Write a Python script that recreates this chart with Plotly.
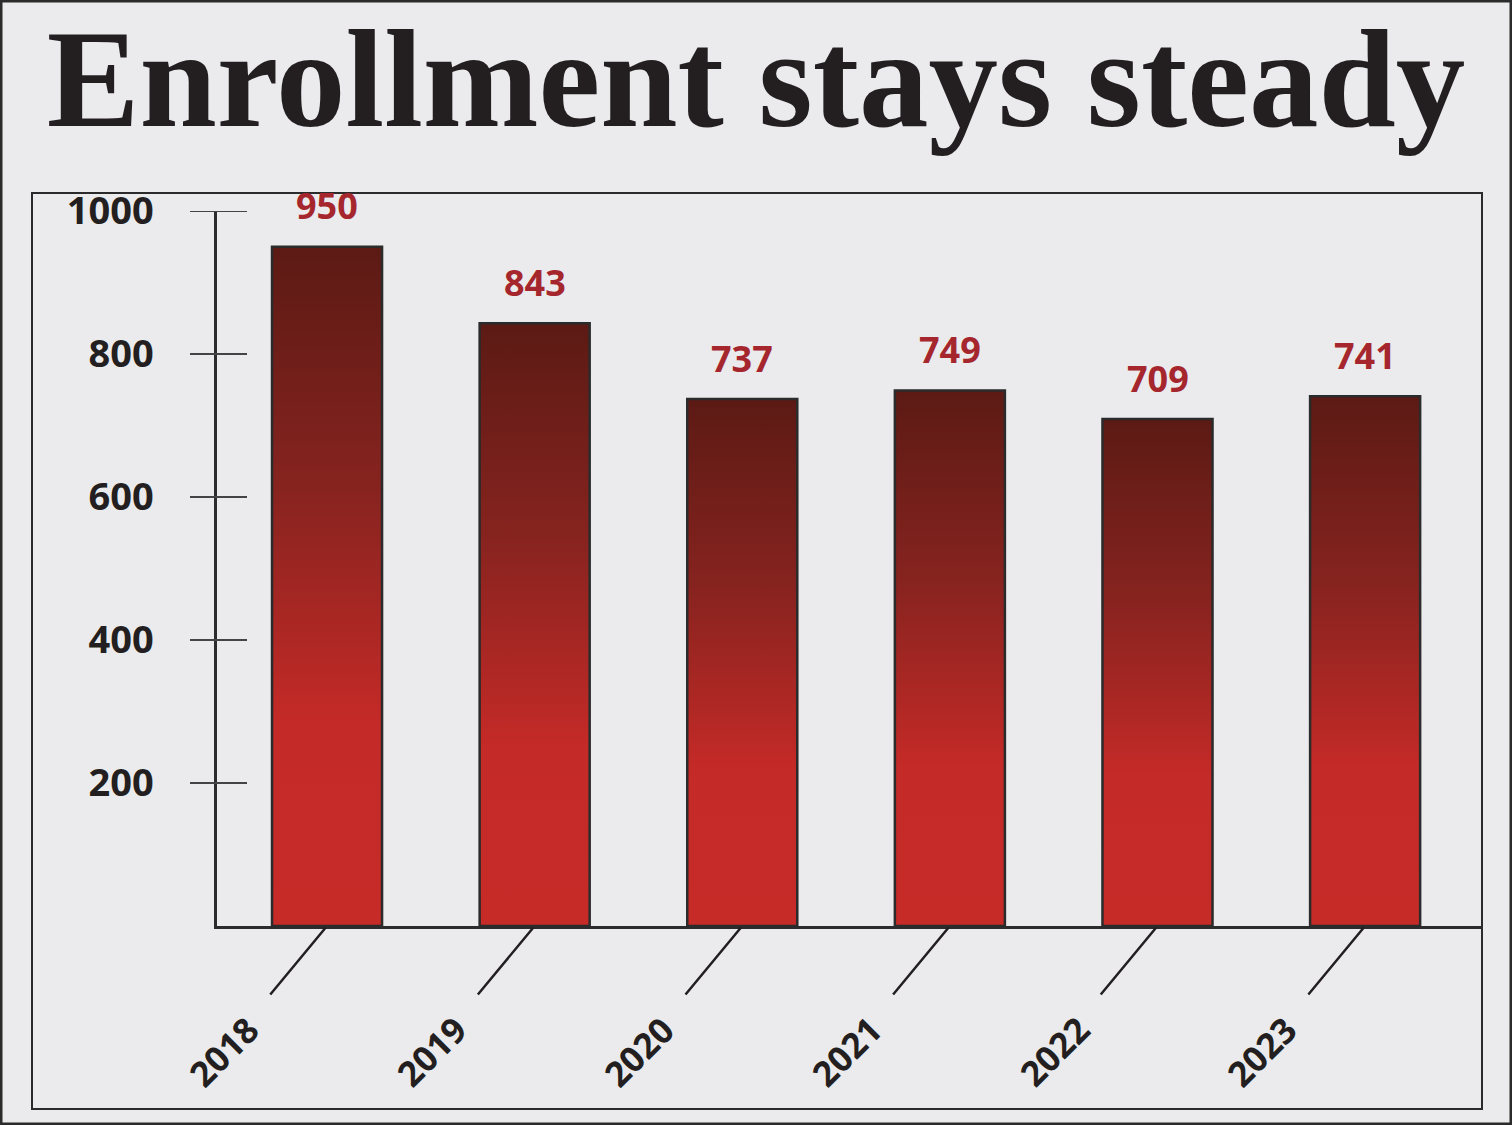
import plotly.graph_objects as go

# data
years = ["2018", "2019", "2020", "2021", "2022", "2023"]
enrollment = [950, 843, 737, 749, 709, 741]
y_ticks = [200, 400, 600, 800, 1000]

W, H = 1512, 1125
ml, mr, mt, mb = 217, 30, 211, 199
pw, ph = W - ml - mr, H - mt - mb


def px_x(p):
    # pixel column -> paper x
    return (p - ml) / pw


def px_y(p):
    # pixel row -> paper y
    return (H - mb - p) / ph


bar_w = 0.53
bg = "#ebebed"
ink = "#231f20"
grad = [[0, "#c62b28"], [0.3, "#c42a27"], [0.65, "#86231f"], [1, "#5c1a14"]]

fig = go.Figure()

for i, v in enumerate(enrollment):
    x0, x1 = i - bar_w / 2, i + bar_w / 2
    fig.add_trace(go.Scatter(
        x=[x0, x0, x1, x1, x0],
        y=[0, v, v, 0, 0],
        mode="lines",
        fill="toself",
        fillgradient=dict(type="vertical", colorscale=grad),
        line=dict(color="#2b2b2b", width=2.5),
        hoverinfo="skip",
        showlegend=False,
    ))
    fig.add_annotation(x=i, y=v, yshift=41, text=str(v), showarrow=False,
                       font=dict(family="Open Sans", size=36, color="#a5272d", weight="bold"))
    fig.add_annotation(x=i, y=0, xshift=-104, yshift=-125, text=years[i], textangle=-45,
                       showarrow=False,
                       font=dict(family="Open Sans", size=35, color=ink, weight="bold"))
    # leader line from the baseline to the year label
    fig.add_annotation(x=i, y=0, text="", showarrow=True, arrowhead=0,
                       ax=-58, ay=70, standoff=2, arrowwidth=2.5, arrowcolor=ink)

# tick marks crossing the y axis
for t in y_ticks:
    fig.add_shape(type="line", xref="paper", yref="y", xsizemode="pixel",
                  xanchor=0, x0=-27, x1=30, y0=t, y1=t,
                  line=dict(color="#444", width=1.8))

# chart box and outer frame
fig.add_shape(type="rect", xref="paper", yref="paper",
              x0=px_x(32), x1=px_x(1482), y0=px_y(1109), y1=px_y(193),
              line=dict(color="#2b2b2b", width=2), layer="below")
fig.add_shape(type="rect", xref="paper", yref="paper",
              x0=px_x(1), x1=px_x(1511), y0=px_y(1124), y1=px_y(1),
              line=dict(color="#2b2b2b", width=3), layer="below")

fig.update_layout(
    width=W, height=H,
    margin=dict(l=ml, r=mr, t=mt, b=mb),
    paper_bgcolor=bg, plot_bgcolor=bg,
    title=dict(text="Enrollment stays steady", x=0.5, xanchor="center",
               y=1 - 29 / H, yanchor="top", xref="container", yref="container",
               font=dict(family="Liberation Serif", size=139, color=ink, weight="bold")),
    xaxis=dict(range=[-0.53, 5.563], showgrid=False, zeroline=False,
               showticklabels=False, ticks="", showline=True,
               linecolor="#2b2b2b", linewidth=2.5),
    yaxis=dict(range=[0, 1000], showgrid=False, zeroline=False,
               tickvals=y_ticks, ticks="", showline=True,
               linecolor="#2b2b2b", linewidth=2.5, ticklabelstandoff=53,
               tickfont=dict(family="Open Sans", size=38, color=ink, weight="bold")),
)

fig.write_html("out.html", config={"displayModeBar": False},
               post_script="document.body.style.margin='0';")
